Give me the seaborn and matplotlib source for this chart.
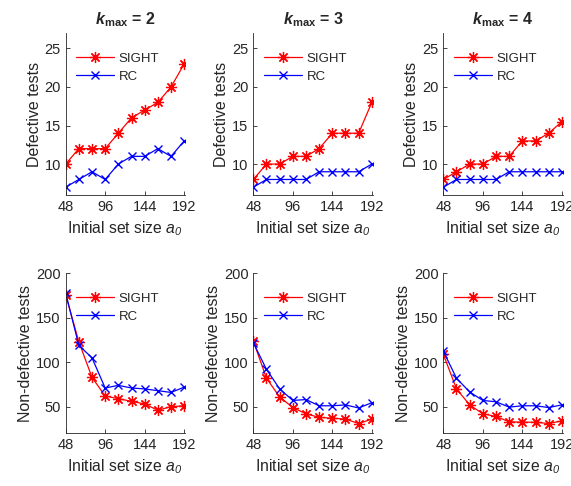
import matplotlib
matplotlib.use("Agg")
import matplotlib.pyplot as plt
import numpy as np
import pandas as pd
import seaborn as sns

# initial set sizes a0
a0 = [48, 64, 80, 96, 112, 128, 144, 160, 176, 192]
kmax_values = [2, 3, 4]

# defective tests (top row)
sight_def = {
    2: [10, 12, 12, 12, 14, 16, 17, 18, 20, 23],
    3: [8, 10, 10, 11, 11, 12, 14, 14, 14, 18],
    4: [8, 9, 10, 10, 11, 11, 13, 13, 14, 15.5],
}
rc_def = {
    2: [7, 8, 9, 8, 10, 11, 11, 12, 11, 13],
    3: [7, 8, 8, 8, 8, 9, 9, 9, 9, 10],
    4: [7, 8, 8, 8, 8, 9, 9, 9, 9, 9],
}

# non-defective tests (bottom row)
sight_nondef = {
    2: [176, 123, 83, 62, 59, 56, 53, 46, 50, 51],
    3: [124, 82, 61, 49, 42, 38, 37, 36, 31, 36],
    4: [109, 70, 52, 42, 39, 33, 32.5, 32.5, 31, 34],
}
rc_nondef = {
    2: [178, 119, 105, 71, 74, 71, 70, 68, 66, 72],
    3: [122, 92, 70, 57, 58, 51, 51, 52, 48.5, 54.5],
    4: [112.5, 82, 66.5, 57, 55.5, 49.5, 51, 51, 49, 52],
}

sns.set_style("ticks")
plt.rcParams["font.family"] = ["Liberation Sans", "DejaVu Sans"]
plt.rcParams["mathtext.fontset"] = "custom"
plt.rcParams["mathtext.rm"] = "Liberation Sans"
plt.rcParams["mathtext.it"] = "Liberation Sans:italic"
plt.rcParams["mathtext.sf"] = "Liberation Sans:italic"  # used for italic digits
plt.rcParams["mathtext.bf"] = "Liberation Sans:bold"
plt.rcParams["mathtext.bfit"] = "Liberation Sans:bold:italic"

dark = "#262626"
asterisk = (8, 2, 0)

fig = plt.figure(figsize=(5.71, 4.86), dpi=100)
lefts = [0.115, 0.4436, 0.7764]
width = 0.209
rows = [(0.599, 0.333), (0.1084, 0.329)]


def draw(ax, sight, rc, ylim, yticks, ylabel):
    df = pd.DataFrame({"a0": a0, "SIGHT": sight, "RC": rc})
    sns.lineplot(data=df, x="a0", y="SIGHT", ax=ax, color="red", marker=asterisk,
                 markersize=8, linewidth=0.9, label="SIGHT", markeredgecolor="red",
                 markeredgewidth=0.9)
    sns.lineplot(data=df, x="a0", y="RC", ax=ax, color="blue", marker="x",
                 markersize=6, linewidth=0.9, label="RC", markeredgecolor="blue",
                 markeredgewidth=1.0)
    ax.set_xlim(48, 193)
    ax.set_ylim(*ylim)
    ax.set_xticks([48, 96, 144, 192])
    ax.set_yticks(yticks)
    ax.tick_params(direction="in", length=3, labelsize=10.5, colors=dark, width=0.6)
    for s in ["left", "bottom"]:
        ax.spines[s].set_color(dark)
        ax.spines[s].set_linewidth(0.6)
    sns.despine(ax=ax)
    ax.set_xlabel(r"Initial set size $\mathit{a}_{\mathsf{0}}$", fontsize=11.3, color=dark)
    ax.set_ylabel(ylabel, fontsize=11.5, color=dark, labelpad=2)
    ax.legend(loc="upper left", bbox_to_anchor=(0.02, 0.93), frameon=False,
              fontsize=9.5, handlelength=2.9, handletextpad=0.35, labelspacing=0.45,
              borderaxespad=0.2)


for i, k in enumerate(kmax_values):
    ax_top = fig.add_axes([lefts[i], rows[0][0], width, rows[0][1]])
    draw(ax_top, sight_def[k], rc_def[k], (6, 27), [10, 15, 20, 25], "Defective tests")
    ax_top.set_title(r"$\mathbfit{k}_{\mathbf{max}}$ = " + str(k), fontsize=11.5,
                     fontweight="bold", pad=6)

    ax_bot = fig.add_axes([lefts[i], rows[1][0], width, rows[1][1]])
    draw(ax_bot, sight_nondef[k], rc_nondef[k], (20, 200), [50, 100, 150, 200],
         "Non-defective tests")

fig.savefig("out.png", dpi=100)
